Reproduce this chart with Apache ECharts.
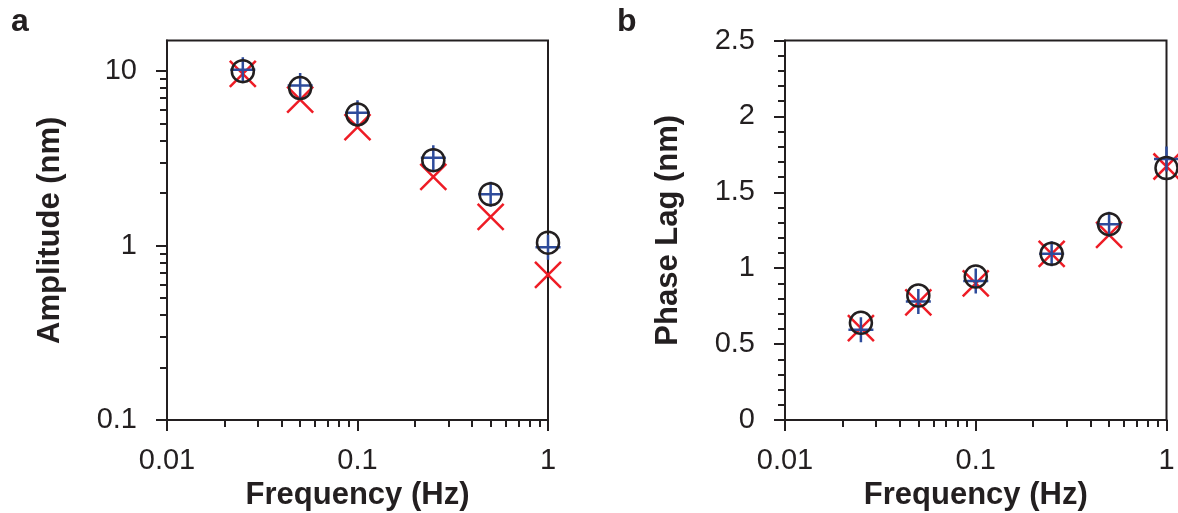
<!DOCTYPE html>
<html>
<head>
<meta charset="utf-8">
<script src="https://cdn.jsdelivr.net/npm/echarts@6/dist/echarts.min.js"></script>
<style>html,body{margin:0;padding:0;background:#fff}#c{width:1178px;height:513px}</style>
</head>
<body>
<div id="c"></div>
<script>
// ---- data ----
var freq = [0.025, 0.05, 0.1, 0.25, 0.5, 1];
var ampCircle = [10.0, 8.0, 5.65, 3.09, 1.97, 1.04];
var ampPlus = [10.2, 8.28, 5.77, 3.19, 1.97, 0.98];
var ampCross = [9.66, 6.88, 4.78, 2.48, 1.46, 0.68];
var phaseCircle = [0.64, 0.82, 0.945, 1.095, 1.29, 1.66];
var phasePlus = [0.595, 0.78, 0.915, 1.095, 1.29, 1.72];
var phaseCross = [0.605, 0.775, 0.90, 1.095, 1.22, 1.67];
var freqMajorTicks = [0.01, 0.1, 1];
var freqMinorTicks = [0.02, 0.03, 0.04, 0.05, 0.06, 0.07, 0.08, 0.09, 0.2, 0.3, 0.4, 0.5, 0.6, 0.7, 0.8, 0.9];
var ampMajorTicks = [0.1, 1, 10];
var ampMinorTicks = [0.2, 0.3, 0.4, 0.5, 0.6, 0.7, 0.8, 0.9, 2, 3, 4, 5, 6, 7, 8, 9];

var INK = '#231f20', BLUE = '#2e4b9b', RED = '#ee1c25';
var FONT = '"Liberation Sans", Arial, sans-serif';

function pairs(xs, ys) { return xs.map(function (x, i) { return [x, ys[i]]; }); }

function xMajor(grid) {
  return {
    type: 'log', gridIndex: grid, min: 0.01, max: 1, position: 'bottom',
    name: 'Frequency (Hz)', nameLocation: 'middle', nameGap: 59,
    nameTextStyle: { fontFamily: FONT, fontSize: 31, fontWeight: 'bold', color: INK },
    axisLine: { lineStyle: { color: INK, width: 2 } },
    axisTick: { customValues: freqMajorTicks, length: 11, lineStyle: { color: INK, width: 2 } },
    axisLabel: { customValues: freqMajorTicks, margin: 26, fontFamily: FONT, fontSize: 29, color: INK,
      formatter: function (v) { return String(v); } },
    splitLine: { show: false }
  };
}
function xMinor(grid) {
  return {
    type: 'log', gridIndex: grid, min: 0.01, max: 1, position: 'bottom',
    axisLine: { show: false },
    axisTick: { customValues: freqMinorTicks, length: 7, lineStyle: { color: INK, width: 2 } },
    axisLabel: { show: false }, splitLine: { show: false }
  };
}

var option = {
  animation: false,
  textStyle: { fontFamily: FONT },
  title: [
    { text: 'a', left: 6, top: 1, textStyle: { fontFamily: FONT, fontSize: 32, fontWeight: 'bold', color: INK } },
    { text: 'b', left: 612, top: 1, textStyle: { fontFamily: FONT, fontSize: 32, fontWeight: 'bold', color: INK } }
  ],
  grid: [
    { left: 167, top: 40.5, width: 381, height: 379.5, show: true, borderColor: INK, borderWidth: 2, backgroundColor: 'transparent', outerBoundsMode: 'none' },
    { left: 785, top: 40.5, width: 381.5, height: 379.5, show: true, borderColor: INK, borderWidth: 2, backgroundColor: 'transparent', outerBoundsMode: 'none' }
  ],
  xAxis: [xMajor(0), xMinor(0), xMajor(1), xMinor(1)],
  yAxis: [
    {
      type: 'log', gridIndex: 0, min: 0.1, max: 15, position: 'left',
      name: 'Amplitude (nm)', nameLocation: 'middle', nameGap: 101,
      nameTextStyle: { fontFamily: FONT, fontSize: 31, fontWeight: 'bold', color: INK },
      axisLine: { lineStyle: { color: INK, width: 2 } },
      axisTick: { customValues: ampMajorTicks, length: 11, lineStyle: { color: INK, width: 2 } },
      axisLabel: { customValues: ampMajorTicks, margin: 30, fontFamily: FONT, fontSize: 29, color: INK,
        formatter: function (v) { return String(v); } },
      splitLine: { show: false }
    },
    {
      type: 'log', gridIndex: 0, min: 0.1, max: 15, position: 'left',
      axisLine: { show: false },
      axisTick: { customValues: ampMinorTicks, length: 7, lineStyle: { color: INK, width: 2 } },
      axisLabel: { show: false }, splitLine: { show: false }
    },
    {
      type: 'value', gridIndex: 1, min: 0, max: 2.5, interval: 0.5, position: 'left',
      name: 'Phase Lag (nm)', nameLocation: 'middle', nameGap: 101,
      nameTextStyle: { fontFamily: FONT, fontSize: 31, fontWeight: 'bold', color: INK },
      axisLine: { show: true, lineStyle: { color: INK, width: 2 } },
      axisTick: { show: true, length: 11, lineStyle: { color: INK, width: 2 } },
      minorTick: { show: true, splitNumber: 5, length: 7, lineStyle: { color: INK, width: 2 } },
      axisLabel: { margin: 30, fontFamily: FONT, fontSize: 29, color: INK },
      splitLine: { show: false }, minorSplitLine: { show: false }
    }
  ],
  series: []
};

var plusPath = 'path://M0,10L20,10M10,0L10,20';
var crossPath = 'path://M0,0L20,20M20,0L0,20';
function crossSeries(xi, yi, data) {
  return { type: 'scatter', xAxisIndex: xi, yAxisIndex: yi, clip: false, data: data, symbol: crossPath, symbolSize: 26,
    itemStyle: { color: 'none', borderColor: RED, borderWidth: 2.5, opacity: 1 }, z: 2 };
}
function plusSeries(xi, yi, data) {
  return { type: 'scatter', xAxisIndex: xi, yAxisIndex: yi, clip: false, data: data, symbol: plusPath, symbolSize: 25,
    itemStyle: { color: 'none', borderColor: BLUE, borderWidth: 2.5, opacity: 1 }, z: 3 };
}
function circleSeries(xi, yi, data) {
  return { type: 'scatter', xAxisIndex: xi, yAxisIndex: yi, clip: false, data: data, symbol: 'circle', symbolSize: 22,
    itemStyle: { color: 'rgba(0,0,0,0)', borderColor: INK, borderWidth: 2.5, opacity: 1 }, z: 4 };
}
option.series.push(
  crossSeries(0, 0, pairs(freq, ampCross)),
  plusSeries(0, 0, pairs(freq, ampPlus)),
  circleSeries(0, 0, pairs(freq, ampCircle)),
  crossSeries(2, 2, pairs(freq, phaseCross)),
  plusSeries(2, 2, pairs(freq, phasePlus)),
  circleSeries(2, 2, pairs(freq, phaseCircle))
);

var chart = echarts.init(document.getElementById('c'), null, { renderer: 'canvas' });
chart.setOption(option);
</script>
</body>
</html>
